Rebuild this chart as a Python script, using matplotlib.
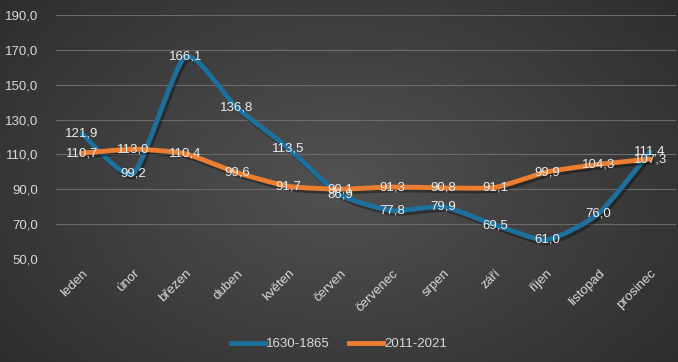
import numpy as np
import matplotlib
matplotlib.use("Agg")
import matplotlib.pyplot as plt
from matplotlib.path import Path
from matplotlib.patches import PathPatch
import matplotlib.patheffects as pe
from matplotlib.lines import Line2D

months = ["leden", "únor", "březen", "duben", "květen", "červen",
          "červenec", "srpen", "září", "říjen", "listopad", "prosinec"]
old_vals = [121.9, 99.2, 166.1, 136.8, 113.5, 86.9, 77.8, 79.9, 69.5, 61.0, 76.0, 111.4]
new_vals = [110.7, 113.0, 110.4, 99.6, 91.7, 90.1, 91.3, 90.8, 91.1, 99.9, 104.3, 107.3]
series_names = ["1630-1865", "2011-2021"]
yticks = [50, 70, 90, 110, 130, 150, 170, 190]

BLUE = "#1d6f9c"
ORANGE = "#ed7d31"
TXT = "#d9d9d9"

plt.rcParams['font.family'] = ['Liberation Sans', 'DejaVu Sans']

fig = plt.figure(figsize=(6.78, 3.62), dpi=100)

# dark radial background, lighter in the middle
bg = fig.add_axes([0, 0, 1, 1], zorder=-10)
yy, xx = np.mgrid[-1:1:200j, -1:1:400j]
r = np.sqrt(xx**2 + (yy * 0.8)**2)
g = np.clip(0.32 - 0.11 * r, 0, 1)
bg.imshow(np.dstack([g, g, g]), aspect="auto", extent=[0, 1, 0, 1])
bg.axis("off")

ax = fig.add_axes([56 / 678, 1 - 259 / 362, 620 / 678, 244 / 362])
ax.patch.set_alpha(0)


def smooth_path(xs, ys, k=10):
    # gentle bezier smoothing, like Excel's smoothed line
    pts = np.column_stack([xs, ys]).astype(float)
    n = len(pts)
    verts = [pts[0]]
    codes = [Path.MOVETO]
    for i in range(n - 1):
        p0 = pts[max(i - 1, 0)]
        p1 = pts[i]
        p2 = pts[i + 1]
        p3 = pts[min(i + 2, n - 1)]
        c1 = p1 + (p2 - p0) / k
        c2 = p2 - (p3 - p1) / k
        verts += [c1, c2, p2]
        codes += [Path.CURVE4] * 3
    return Path(verts, codes)


x = np.arange(len(months))
shadow = [pe.SimpleLineShadow(offset=(1.5, -2), shadow_color="black", alpha=0.35, linewidth=3.5),
          pe.Normal()]
for vals, col in [(old_vals, BLUE), (new_vals, ORANGE)]:
    patch = PathPatch(smooth_path(x, vals), facecolor="none", edgecolor=col,
                      lw=3.5, capstyle="round", joinstyle="round", zorder=3)
    patch.set_path_effects(shadow)
    ax.add_patch(patch)

for vals in (old_vals, new_vals):
    for xi, v in zip(x, vals):
        ax.text(xi, v, f"{v:.1f}".replace(".", ","), ha="center", va="center",
                color="#eeeeee", fontsize=9.5, zorder=5)

ax.set_xlim(-0.5, len(months) - 0.5)
ax.set_ylim(50, 190)
ax.set_yticks(yticks)
ax.set_yticklabels([f"{t:.1f}".replace(".", ",") for t in yticks], color=TXT, fontsize=9.5)
ax.set_xticks(x)
ax.set_xticklabels(months, rotation=45, ha="right", va="top", rotation_mode="anchor",
                   color=TXT, fontsize=9.5)
ax.tick_params(length=0, pad=13)
ax.tick_params(axis="x", pad=6)
ax.grid(axis="y", color="#6b6b6b", lw=0.8)
ax.set_axisbelow(True)
for s in ax.spines.values():
    s.set_visible(False)

handles = [Line2D([], [], color=BLUE, lw=3.5), Line2D([], [], color=ORANGE, lw=3.5)]
fig.legend(handles, series_names, loc="center", bbox_to_anchor=(0.5, 1 - 344 / 362),
           ncol=2, frameon=False, fontsize=9.5, labelcolor=TXT, handlelength=2.6,
           handletextpad=0.1, columnspacing=1.4)

fig.savefig("out.png", dpi=100)
